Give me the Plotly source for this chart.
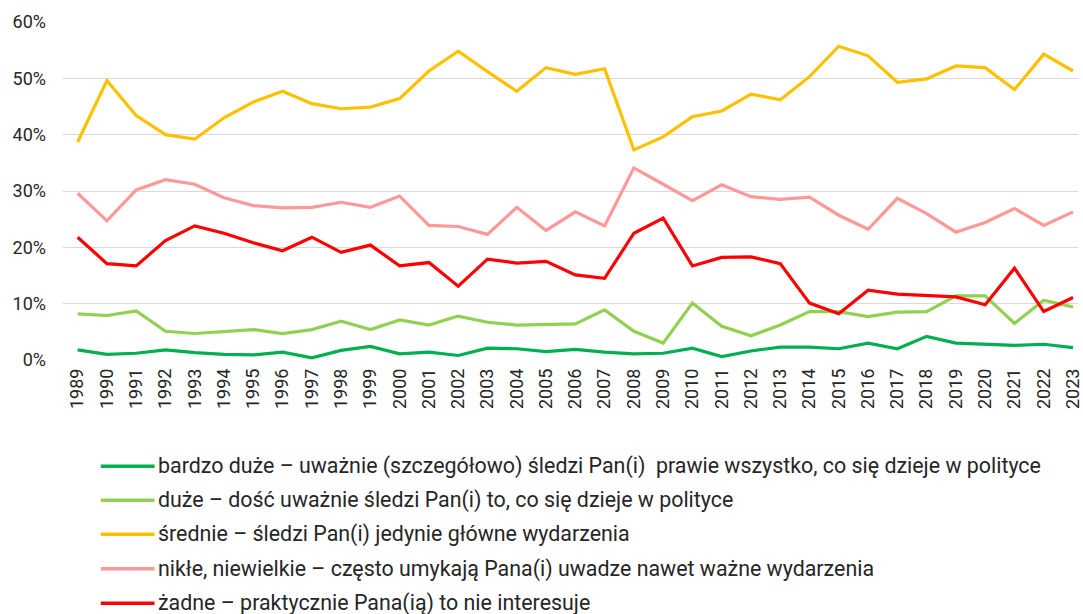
import plotly.graph_objects as go

years = [str(y) for y in range(1989, 2024)]

bardzo_duze = [1.8, 1.0, 1.2, 1.8, 1.3, 1.0, 0.9, 1.4, 0.4, 1.7, 2.4, 1.1, 1.4, 0.8, 2.1, 2.0, 1.5, 1.9,
               1.4, 1.1, 1.2, 2.1, 0.6, 1.6, 2.3, 2.3, 2.0, 3.0, 2.0, 4.2, 3.0, 2.8, 2.6, 2.8, 2.2]
duze = [8.2, 7.9, 8.7, 5.1, 4.7, 5.0, 5.4, 4.7, 5.4, 6.9, 5.4, 7.1, 6.2, 7.8, 6.7, 6.2, 6.3, 6.4,
        8.9, 5.1, 3.0, 10.1, 6.0, 4.3, 6.2, 8.6, 8.6, 7.7, 8.5, 8.6, 11.4, 11.4, 6.5, 10.6, 9.4]
srednie = [38.7, 49.6, 43.4, 40.0, 39.2, 43.0, 45.8, 47.7, 45.5, 44.6, 44.9, 46.4, 51.3, 54.8, 51.2,
           47.7, 51.9, 50.7, 51.7, 37.3, 39.6, 43.2, 44.2, 47.2, 46.2, 50.3, 55.7, 54.0, 49.3, 49.9,
           52.2, 51.9, 48.0, 54.3, 51.3]
nikle = [29.6, 24.7, 30.2, 32.0, 31.2, 28.8, 27.4, 27.0, 27.1, 28.0, 27.1, 29.1, 23.9, 23.7, 22.3,
         27.1, 23.0, 26.3, 23.8, 34.1, 31.2, 28.3, 31.1, 29.0, 28.5, 28.9, 25.7, 23.2, 28.7, 26.0,
         22.7, 24.4, 26.9, 23.9, 26.3]
zadne = [21.8, 17.1, 16.7, 21.2, 23.8, 22.5, 20.8, 19.4, 21.8, 19.1, 20.4, 16.7, 17.3, 13.1, 17.9,
         17.2, 17.5, 15.1, 14.5, 22.5, 25.2, 16.7, 18.2, 18.3, 17.1, 10.1, 8.2, 12.4, 11.7, 11.5,
         11.2, 9.8, 16.3, 8.6, 11.1]

series_names = [
    "bardzo duże – uważnie (szczegółowo) śledzi Pan(i)  prawie wszystko, co się dzieje w polityce",
    "duże – dość uważnie śledzi Pan(i) to, co się dzieje w polityce",
    "średnie – śledzi Pan(i) jedynie główne wydarzenia",
    "nikłe, niewielkie – często umykają Pana(i) uwadze nawet ważne wydarzenia",
    "żadne – praktycznie Pana(ią) to nie interesuje",
]
series_values = [bardzo_duze, duze, srednie, nikle, zadne]
colors = ["#00B050", "#92D050", "#FFC000", "#FF9999", "#FF0000"]

W, H = 1083, 614
plot_top, plot_bottom = 21.5, 359.7
plot_h = plot_bottom - plot_top

fig = go.Figure()
for name, vals, col in zip(series_names, series_values, colors):
    fig.add_trace(go.Scatter(
        x=list(range(len(years))), y=vals, mode="lines", name=name,
        line=dict(color=col, width=3.2), showlegend=False,
        hovertemplate="%{y:.1f}%<extra></extra>",
    ))

# manual legend (long line samples like the original)
legend_rows_px = [466, 500, 534, 568.5, 603]
def py(p):
    return (plot_bottom - p) / plot_h

x_line0 = (101 - 63) / (W - 63)
x_line1 = (155 - 63) / (W - 63)
x_text = (156 - 63) / (W - 63)
for name, col, ypx in zip(series_names, colors, legend_rows_px):
    fig.add_shape(type="line", xref="paper", yref="paper",
                  x0=x_line0, x1=x_line1, y0=py(ypx), y1=py(ypx),
                  line=dict(color=col, width=3.5))
    fig.add_annotation(xref="paper", yref="paper", x=x_text, y=py(ypx),
                       xanchor="left", yanchor="middle", showarrow=False,
                       text=name, font=dict(family="Roboto", size=21.4, color="#262626"))

fig.update_layout(
    width=W, height=H,
    margin=dict(l=63, r=0, t=plot_top, b=H - plot_bottom, pad=0),
    plot_bgcolor="white", paper_bgcolor="white",
    font=dict(family="Roboto", color="#262626"),
    xaxis=dict(
        tickmode="array", tickvals=list(range(len(years))), ticktext=years,
        tickangle=-90, range=[-0.5, 34.17], showgrid=False, zeroline=False,
        showline=False, ticks="", tickfont=dict(family="Roboto", size=18, color="#262626"),
        ticklabelstandoff=4, ticklabeloverflow="allow",
    ),
    yaxis=dict(
        range=[0, 60], tickvals=[0, 10, 20, 30, 40, 50, 60],
        ticktext=["0%", "10%", "20%", "30%", "40%", "50%", "60%"],
        showgrid=True, gridcolor="#D9D9D9", gridwidth=1.3, zeroline=False,
        showline=False, ticks="", tickfont=dict(family="Roboto", size=18, color="#262626"),
        ticklabelstandoff=16,
    ),
    hovermode="x unified",
)

fig.write_html("out.html", config={"displayModeBar": False},
               post_script="document.body.style.margin='0';document.body.style.overflow='hidden';")
